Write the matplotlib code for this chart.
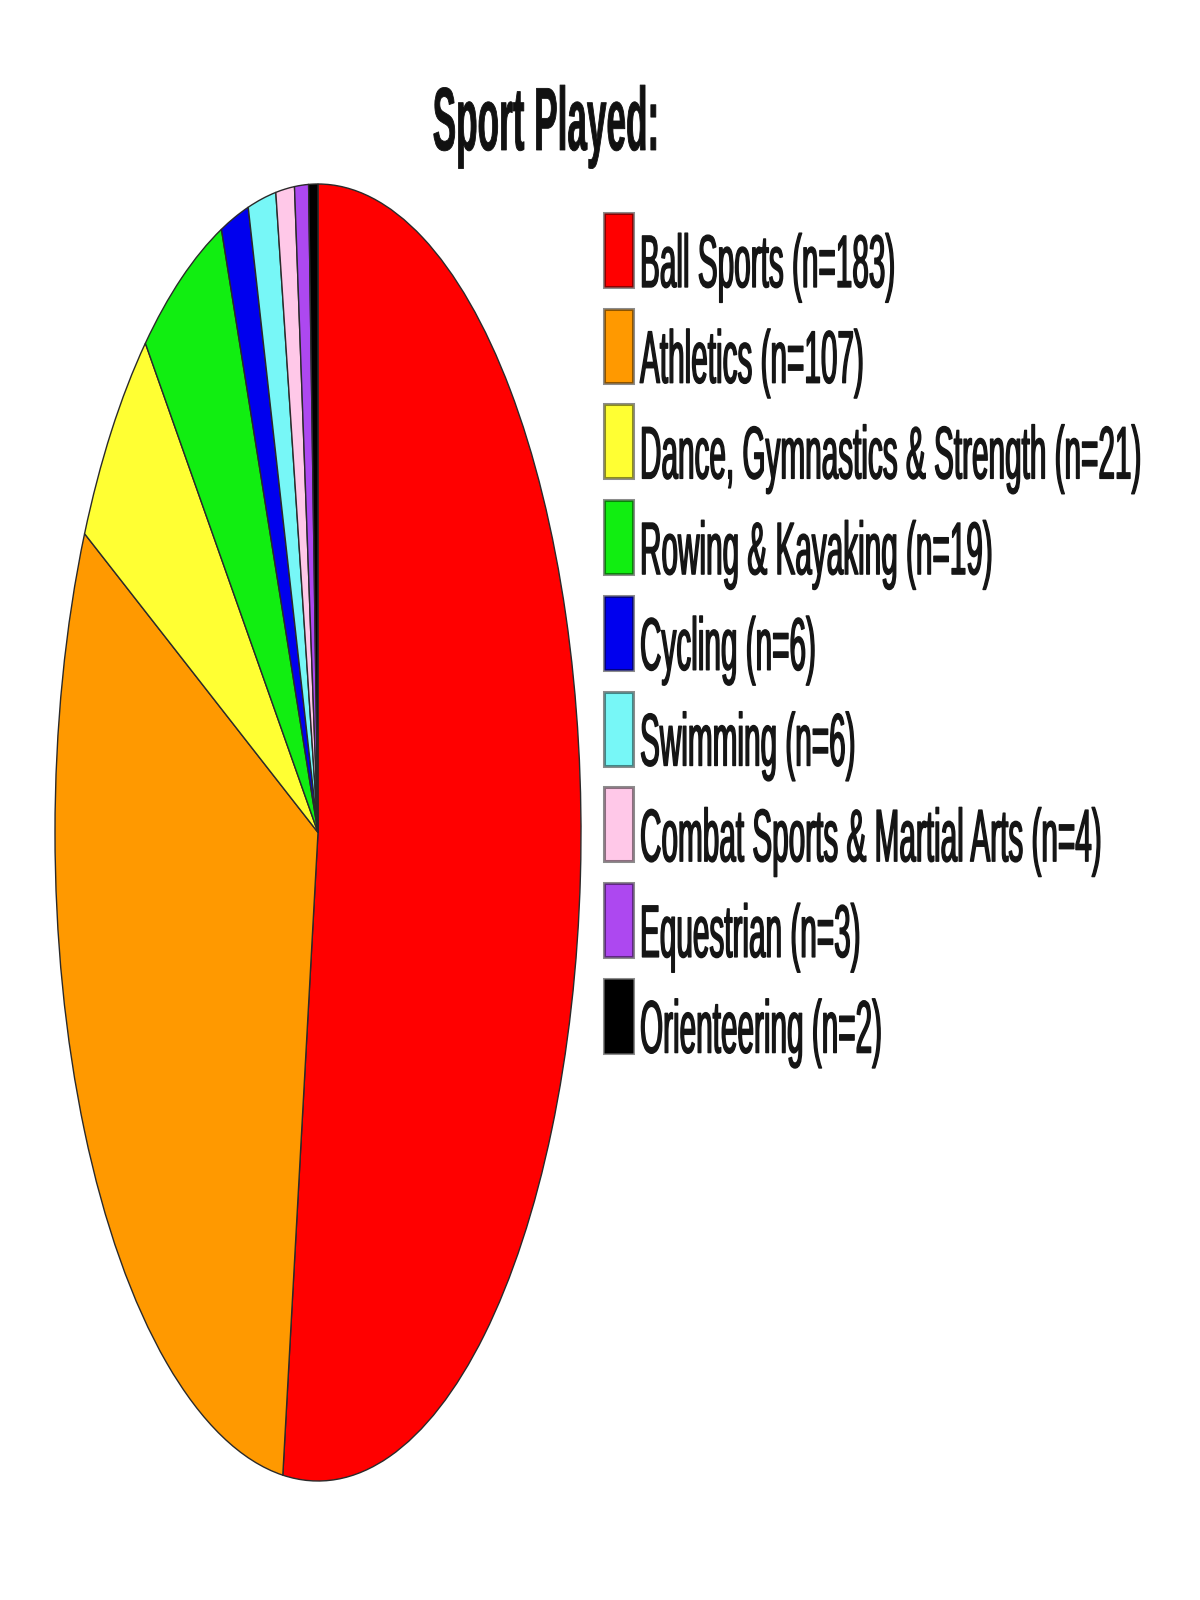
import matplotlib
matplotlib.use("Agg")
import matplotlib.pyplot as plt
from matplotlib.patches import Rectangle
from matplotlib.patheffects import AbstractPathEffect
from matplotlib.transforms import Affine2D

TITLE = "Sport Played:"
SPORTS = [
    "Ball Sports",
    "Athletics",
    "Dance, Gymnastics & Strength",
    "Rowing & Kayaking",
    "Cycling",
    "Swimming",
    "Combat Sports & Martial Arts",
    "Equestrian",
    "Orienteering",
]
COUNTS = [183, 107, 21, 19, 6, 6, 4, 3, 2]
COLORS = ["#ff0000", "#ff9900", "#ffff33", "#11ee11", "#0000ee",
          "#77f7f7", "#ffc8e8", "#ad48f0", "#000000"]

plt.rcParams["font.family"] = ["Liberation Sans", "DejaVu Sans"]


class Tall(AbstractPathEffect):
    # the original image was stretched vertically, so stretch glyphs about the baseline
    def __init__(self, sy, lw=0.0):
        super().__init__()
        self.sy = sy
        self.lw = lw

    def draw_path(self, renderer, gc, tpath, affine, rgbFace=None):
        x0, y0 = affine.transform((0, 0))
        st = Affine2D().translate(-x0, -y0).scale(1, self.sy).translate(x0, y0)
        gc0 = renderer.new_gc()
        gc0.copy_properties(gc)
        gc0.set_linewidth(self.lw)
        renderer.draw_path(gc0, tpath, affine + st, rgbFace)
        gc0.restore()


fig = plt.figure(figsize=(12, 16), dpi=100)

# pie, squashed into an ellipse
ax = fig.add_axes([55 / 1200, 1 - 1481 / 1600, 526 / 1200, 1297 / 1600])
ax.pie(COUNTS, colors=COLORS, startangle=90, counterclock=False, radius=1,
       wedgeprops=dict(edgecolor="#2a2a2a", linewidth=1.0))
ax.set_aspect("auto")
ax.set_xlim(-1, 1)
ax.set_ylim(-1, 1)
ax.axis("off")

# overlay in pixel units for title + legend
lax = fig.add_axes([0, 0, 1, 1])
lax.set_xlim(0, 1200)
lax.set_ylim(1600, 0)
lax.axis("off")

lax.text(546, 150, TITLE, ha="center", va="baseline", fontsize=25.3,
         fontweight="bold", color="#111111", path_effects=[Tall(2.55, 0.6)])

step = 95.7
for i, (name, n, c) in enumerate(zip(SPORTS, COUNTS, COLORS)):
    base = 287 + i * step
    lax.add_patch(Rectangle((604, base - 74), 29, 74, facecolor=c,
                            edgecolor=(0, 0, 0, 0.45), linewidth=2.2))
    lax.text(640, base, f"{name} (n={n})", ha="left", va="baseline",
             fontsize=21.4, color="#151515", path_effects=[Tall(2.5, 1.0)])

fig.savefig("out.png", dpi=100, facecolor="white")
